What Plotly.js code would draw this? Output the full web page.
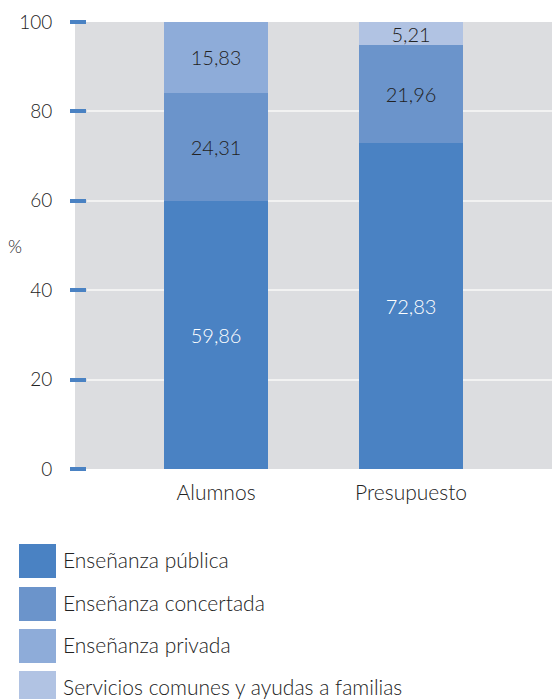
<!DOCTYPE html>
<html>
<head>
<meta charset="utf-8">
<script src="https://cdn.plot.ly/plotly-3.0.1.min.js"></script>
<style>html,body{margin:0;padding:0;background:#fff;}</style>
</head>
<body>
<div id="chart" style="width:552px;height:699px;"></div>
<script>
const categories = ['Alumnos', 'Presupuesto'];
const seriesNames = ['Enseñanza pública', 'Enseñanza concertada', 'Enseñanza privada', 'Servicios comunes y ayudas a familias'];
const publica = [59.86, 72.83];
const concertada = [24.31, 21.96];
const privada = [15.83, 0];
const servicios = [0, 5.21];
const yTicks = [0, 20, 40, 60, 80, 100];

const seriesValues = [publica, concertada, privada, servicios];
const colors = ['#4a82c3', '#6b94cb', '#8eacd9', '#b1c3e3'];
const textColors = ['#ffffff', '#222222', '#222222', '#222222'];
const FONT = 'Lato, "Open Sans", sans-serif';
const WEIGHT = 300;

const W = 552, H = 699;
const M = {l: 87, r: 0, t: 22, b: 230};
const PW = W - M.l - M.r, PH = H - M.t - M.b;
const px = x => (x - M.l) / PW;
const py = y => (H - M.b - y) / PH;

const fmt = v => v ? v.toFixed(2).replace('.', ',') : '';

const traces = seriesValues.map((vals, i) => ({
  type: 'bar',
  name: seriesNames[i],
  x: categories,
  y: vals,
  text: vals.map(fmt),
  textposition: 'inside',
  insidetextanchor: 'middle',
  textangle: 0,
  insidetextfont: {family: FONT, size: 20, weight: WEIGHT, color: textColors[i]},
  marker: {color: colors[i], line: {width: 0}},
  width: 0.533,
  hoverinfo: 'skip',
  showlegend: false
}));

const shapes = [{
  type: 'rect', xref: 'paper', yref: 'paper', layer: 'below',
  x0: px(75), x1: 1, y0: 0, y1: 1,
  fillcolor: '#dcdde0', line: {width: 0}
}];
const annotations = [{
  xref: 'paper', yref: 'paper', x: px(15), y: py(246), text: '%',
  showarrow: false, xanchor: 'center', yanchor: 'middle',
  font: {family: FONT, size: 18, weight: WEIGHT, color: '#222222'}
}];
const legTops = [544, 587, 629, 671];
seriesNames.forEach((n, i) => {
  shapes.push({
    type: 'rect', xref: 'paper', yref: 'paper', layer: 'above',
    x0: px(19), x1: px(56), y0: py(legTops[i] + 34), y1: py(legTops[i]),
    fillcolor: colors[i], line: {width: 0}
  });
  annotations.push({
    xref: 'paper', yref: 'paper', x: px(61), y: py(legTops[i] + 15),
    text: n, showarrow: false, xanchor: 'left', yanchor: 'middle',
    font: {family: FONT, size: 21, weight: WEIGHT, color: '#222222'}
  });
});

const layout = {
  width: W, height: H,
  margin: M,
  barmode: 'stack',
  paper_bgcolor: '#ffffff',
  plot_bgcolor: 'rgba(0,0,0,0)',
  showlegend: false,
  uniformtext: {mode: 'show', minsize: 20},
  font: {family: FONT, color: '#222222'},
  xaxis: {
    range: [-0.662, 1.723],
    showgrid: false, zeroline: false, showline: false, ticks: '',
    tickfont: {family: FONT, size: 21, weight: WEIGHT, color: '#222222'},
    ticklabelstandoff: 9,
    fixedrange: true
  },
  yaxis: {
    range: [0, 100],
    tickvals: yTicks,
    ticktext: yTicks.map(String),
    showgrid: true, gridcolor: '#f2f2f2', gridwidth: 2,
    zeroline: false, showline: false,
    ticks: 'outside', ticklen: 16, tickwidth: 4, tickcolor: '#4a82c3',
    tickfont: {family: FONT, size: 19, weight: WEIGHT, color: '#222222'},
    ticklabelstandoff: 14,
    fixedrange: true
  },
  shapes: shapes,
  annotations: annotations
};

Plotly.newPlot('chart', traces, layout, {displayModeBar: false, staticPlot: true});
</script>
</body>
</html>
